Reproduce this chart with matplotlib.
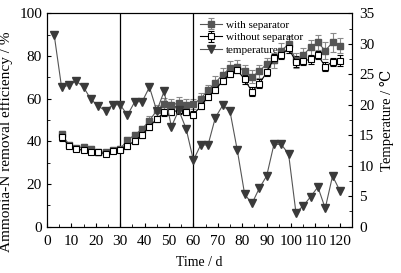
import matplotlib
matplotlib.use("Agg")
import matplotlib.pyplot as plt
from matplotlib.ticker import MultipleLocator
import numpy as np

# removal efficiency sampling days and values (%)
days_eff = [6, 9, 12, 15, 18, 21, 24, 27, 30, 33, 36, 39, 42, 45, 48, 51, 54, 57, 60,
            63, 66, 69, 72, 75, 78, 81, 84, 87, 90, 93, 96, 99, 102, 105, 108, 111, 114, 117, 120]
with_sep = [43.5, 38.5, 36.8, 37.5, 36.5, 35.2, 34.8, 36.0, 36.5, 40.6, 43.0, 45.8, 49.7, 54.5,
            57.5, 57.0, 58.0, 57.0, 57.5, 60.0, 64.0, 67.5, 71.3, 74.3, 75.0, 73.0, 70.3, 72.8,
            76.3, 78.1, 82.5, 85.6, 78.1, 80.4, 84.1, 86.4, 82.5, 86.4, 84.8]
with_sep_err = [1.5, 1.2, 1.0, 1.2, 1.2, 1.0, 1.0, 1.0, 1.2, 1.5, 1.5, 1.5, 2.0, 2.5,
                3.0, 3.0, 3.0, 3.0, 2.5, 2.5, 2.5, 3.0, 3.0, 3.5, 3.0, 3.0, 3.0, 3.0,
                3.0, 3.5, 3.5, 4.0, 3.5, 3.5, 3.5, 3.5, 4.0, 4.5, 3.5]
without_sep = [42.0, 38.0, 36.4, 35.8, 35.2, 34.8, 34.2, 35.6, 36.0, 37.8, 40.3, 43.0, 46.9, 50.5,
               53.6, 53.8, 54.5, 53.8, 52.5, 56.5, 60.9, 64.0, 68.5, 71.5, 73.4, 69.0, 63.3, 67.0,
               72.3, 78.9, 80.5, 83.6, 77.3, 77.8, 78.4, 80.5, 75.0, 77.3, 77.8]
without_sep_err = [2.0, 1.2, 1.0, 1.0, 1.0, 1.0, 1.0, 1.0, 1.0, 1.5, 1.5, 1.5, 1.5, 1.5,
                   1.5, 1.5, 1.5, 1.5, 1.5, 1.5, 1.5, 1.5, 1.5, 1.5, 1.5, 2.0, 2.0, 2.0,
                   1.5, 2.0, 2.0, 2.0, 2.5, 2.0, 2.0, 2.0, 2.0, 2.0, 2.5]

# temperature (deg C)
days_temp = [3, 6, 9, 12, 15, 18, 21, 24, 27, 30, 33, 36, 39, 42, 45, 48, 51, 54, 57, 60,
             63, 66, 69, 72, 75, 78, 81, 84, 87, 90, 93, 96, 99, 102, 105, 108, 111, 114, 117, 120]
temperature = [31.4, 22.9, 23.2, 23.9, 22.9, 20.9, 19.8, 19.0, 20.0, 20.0, 18.3, 20.5, 20.5, 22.9,
               19.0, 22.2, 16.4, 19.1, 16.1, 10.9, 13.4, 13.4, 17.9, 19.9, 18.9, 12.5, 5.3, 3.8,
               6.3, 8.3, 13.5, 13.5, 11.9, 2.3, 3.4, 4.9, 6.5, 3.0, 8.3, 5.9]

plt.rcParams['font.family'] = ['Liberation Serif', 'DejaVu Serif']
plt.rcParams['font.size'] = 9

fig = plt.figure(figsize=(4.01, 2.73), dpi=100)
ax = fig.add_axes([0.117, 0.170, 0.761, 0.781])
ax2 = ax.twinx()

l1 = ax.errorbar(days_eff, with_sep, yerr=with_sep_err, fmt='-s', color='#555555',
                 ecolor='#8a8a8a', elinewidth=0.8, capsize=2, capthick=0.8,
                 ms=5, mfc='#555555', mec='#555555', lw=0.8, label='with separator')
l2 = ax.errorbar(days_eff, without_sep, yerr=without_sep_err, fmt='-s', color='black',
                 ecolor='black', elinewidth=0.8, capsize=2, capthick=0.8,
                 ms=5, mfc='white', mec='black', mew=0.8, lw=0.8, label='without separator')
l3, = ax2.plot(days_temp, temperature, '-v', color='#555555', mfc='#3a3a3a', mec='#3a3a3a',
               ms=6, lw=0.8, label='temperature')

ax.axvline(30, color='black', lw=0.9)
ax.axvline(60, color='black', lw=0.9)

ax.set_xlim(0, 125)
ax.set_ylim(0, 100)
ax2.set_ylim(0, 35)
ax.xaxis.set_major_locator(MultipleLocator(10))
ax.xaxis.set_minor_locator(MultipleLocator(5))
ax.yaxis.set_major_locator(MultipleLocator(20))
ax.yaxis.set_minor_locator(MultipleLocator(10))
ax2.yaxis.set_major_locator(MultipleLocator(5))
ax2.yaxis.set_minor_locator(MultipleLocator(2.5))

ax.tick_params(which='both', direction='in', top=False, labelsize=11)
ax.tick_params(which='major', length=3)
ax.tick_params(which='minor', length=2)
ax.tick_params(axis='x', pad=6)
ax2.tick_params(which='both', direction='in', labelsize=11, pad=5)
ax2.tick_params(which='major', length=3)
ax2.tick_params(which='minor', length=2)

ax.set_xlabel('Time / d', fontsize=10, labelpad=6)
ax.set_ylabel('Ammonia-N removal efficiency / %', fontsize=11)
ax.yaxis.set_label_coords(-0.112, 0.40)
ax2.set_ylabel('Temperature / \u2103', fontsize=10.5, labelpad=4)

ax.legend([l1, l2, l3], ['with separator', 'without separator', 'temperature'],
          loc='upper left', bbox_to_anchor=(0.48, 1.0), frameon=False, fontsize=8,
          handlelength=2.0, handletextpad=0.3, labelspacing=0.25, borderaxespad=0.2)

fig.savefig('out.png', dpi=100)
